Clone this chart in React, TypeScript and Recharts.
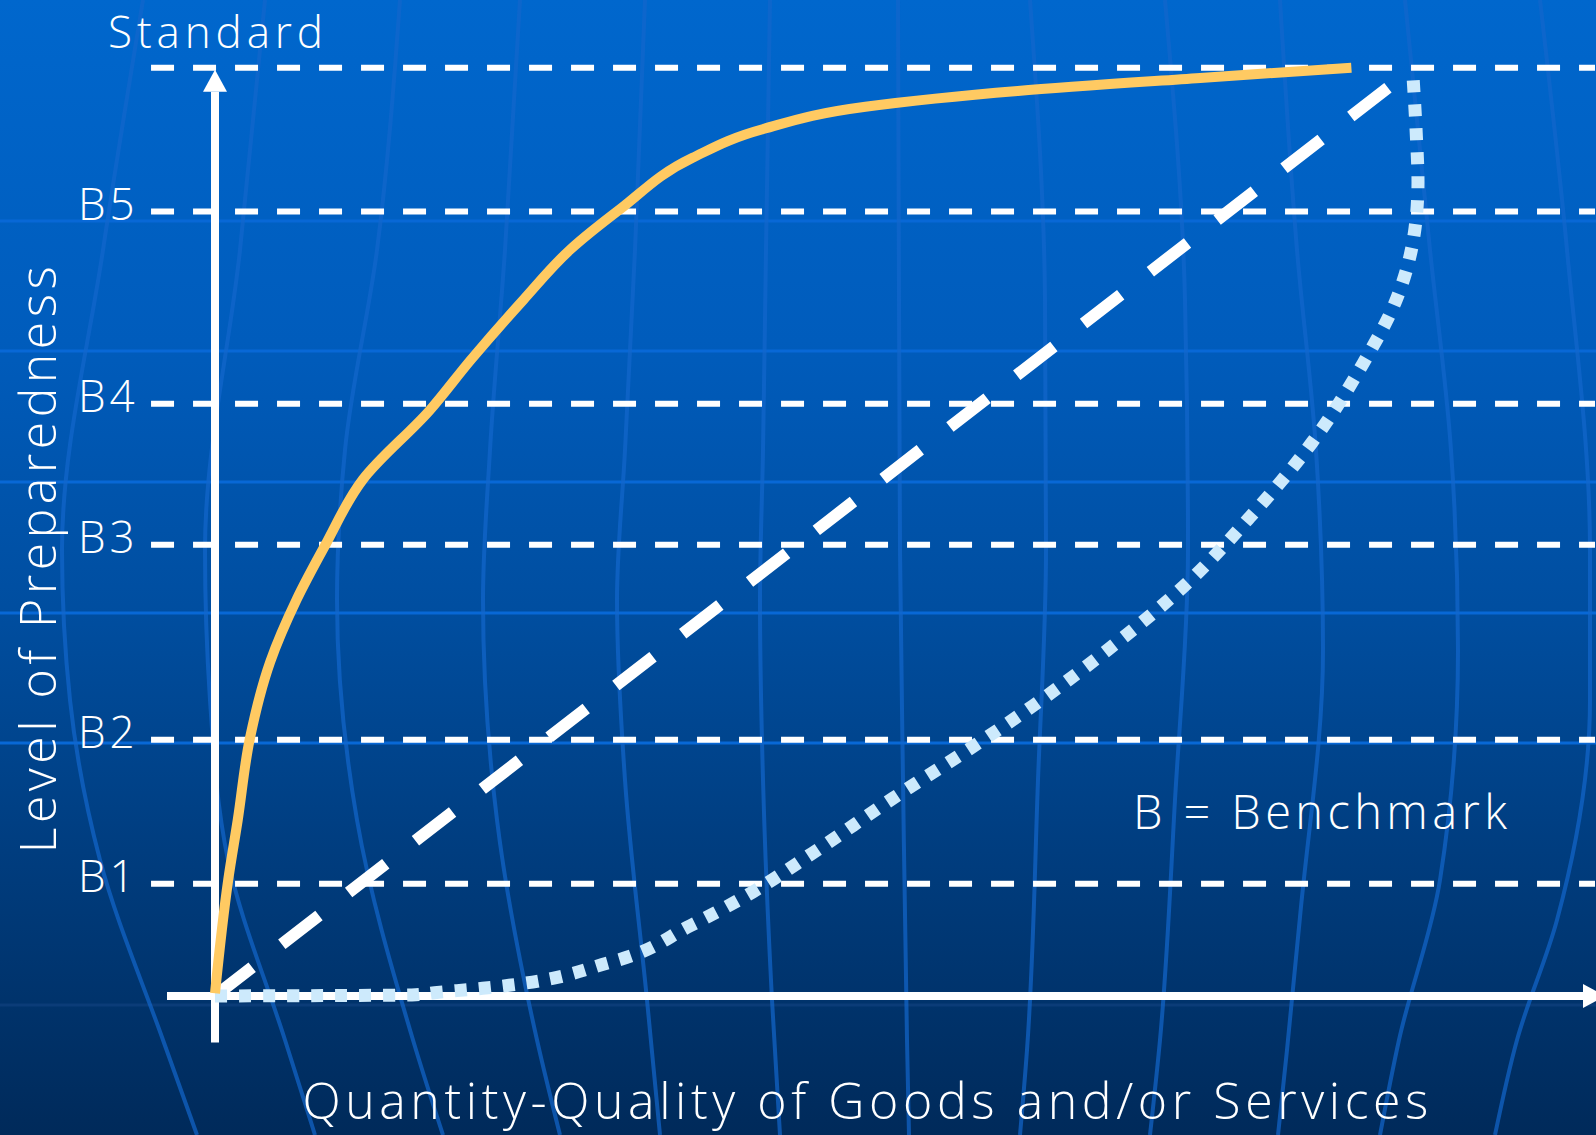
import React from 'react';
import { LineChart, Line, XAxis, YAxis, ReferenceLine, ReferenceDot } from 'recharts';

const W = 1596;
const H = 1135;
const FONT = '"Open Sans", "DejaVu Sans", sans-serif';

// benchmark levels, Standard = 100
const levelNames = ['B1', 'B2', 'B3', 'B4', 'B5'];
const levelValues = [12.1, 27.6, 48.6, 63.8, 84.5];
const standardValue = 100;

// yellow: fast early progress
const fastPath = [
  { x: 0, y: 0.3 }, { x: 1.1, y: 12.5 }, { x: 1.9, y: 19.0 }, { x: 2.9, y: 27.7 },
  { x: 4.6, y: 36.0 }, { x: 6.8, y: 42.7 }, { x: 9.2, y: 48.6 }, { x: 12.3, y: 55.6 },
  { x: 17.9, y: 63.1 }, { x: 21.3, y: 68.5 }, { x: 25.7, y: 75.0 }, { x: 29.6, y: 80.4 },
  { x: 33.8, y: 84.8 }, { x: 39.8, y: 90.3 }, { x: 45.7, y: 93.4 }, { x: 54.2, y: 95.8 },
  { x: 66.9, y: 97.5 }, { x: 82.1, y: 98.9 }, { x: 94.7, y: 100 },
];

// white dashed: steady progress
const linearPath = [{ x: 0, y: 0 }, { x: 99.8, y: 99.9 }];

// light blue dotted: slow start
const slowPath = [
  { x: 0, y: 0 }, { x: 16.4, y: 0.11 }, { x: 18.3, y: 0.36 }, { x: 22.3, y: 0.83 },
  { x: 33.0, y: 3.66 }, { x: 39.6, y: 7.57 }, { x: 44.8, y: 11.2 }, { x: 49.8, y: 15.4 },
  { x: 56.5, y: 21.3 }, { x: 63.2, y: 26.9 }, { x: 68.2, y: 31.3 }, { x: 74.6, y: 37.5 },
  { x: 80.7, y: 44.1 }, { x: 86.25, y: 51.6 }, { x: 91.4, y: 59.6 }, { x: 95.7, y: 68.2 },
  { x: 98.5, y: 75.2 }, { x: 100.0, y: 82.7 }, { x: 100.25, y: 87.7 }, { x: 100.1, y: 93.0 },
  { x: 99.8, y: 99.75 },
];

// faint globe in the background, in picture pixels
const globeParallels = [221, 351, 482, 613, 743];
const globeMeridians = [
  [[143, 0], [103, 250], [62, 550], [70, 700], [100, 860], [163, 1040], [197, 1135]],
  [[265, 0], [240, 250], [205, 550], [210, 700], [228, 860], [285, 1040], [315, 1135]],
  [[400, 0], [377, 250], [345, 450], [337, 600], [357, 820], [413, 1040], [443, 1135]],
  [[520, 0], [505, 250], [490, 450], [483, 600], [497, 820], [537, 1040], [560, 1135]],
  [[645, 0], [635, 250], [625, 450], [617, 600], [625, 780], [647, 1000], [660, 1135]],
  [[770, 0], [766, 250], [763, 450], [760, 600], [763, 780], [772, 1000], [780, 1135]],
  [[898, 0], [899, 300], [900, 550], [903, 780], [907, 1040], [909, 1135]],
  [[1030, 0], [1045, 300], [1046, 550], [1038, 780], [1027, 1050], [1020, 1135]],
  [[1165, 0], [1185, 300], [1188, 550], [1175, 800], [1160, 1040], [1150, 1135]],
  [[1280, 0], [1297, 250], [1316, 450], [1323, 650], [1300, 917], [1287, 1050], [1278, 1135]],
  [[1405, 0], [1430, 250], [1451, 450], [1458, 650], [1440, 880], [1399, 1040], [1380, 1135]],
  [[1540, 0], [1567, 250], [1590, 550], [1590, 700], [1557, 920], [1517, 1040], [1495, 1135]],
].map((m) => m.map(([x, y]) => ({ x, y })));

const txt = {
  fill: '#ffffff',
  fontFamily: FONT,
  fontWeight: 300,
  style: { fontVariantLigatures: 'none' },
} as const;

const BenchTick = (props: any) => {
  const { x, y, payload } = props;
  const i = levelValues.indexOf(payload.value);
  return (
    <text x={x} y={y + 8} fontSize={44} letterSpacing={4} {...txt}>
      {levelNames[i]}
    </text>
  );
};

const StandardLabel = (props: any) => {
  const { viewBox } = props;
  return (
    <text x={viewBox.x - 43} y={viewBox.y - 20} fontSize={44} textLength={215} lengthAdjust="spacing" {...txt}>
      Standard
    </text>
  );
};

const dashedLevel = { stroke: '#ffffff', strokeWidth: 6, strokeDasharray: '23 19' };

export default function App() {
  return (
    <div
      style={{
        position: 'absolute',
        left: 0,
        top: 0,
        width: W,
        height: H,
        background: 'linear-gradient(180deg, #0067cd 0%, #005cbc 30%, #004d9e 55%, #003d7f 75%, #002a5a 100%)',
      }}
    >
      <LineChart width={W} height={H} margin={{ top: 0, right: 0, bottom: 0, left: 0 }}>
        <XAxis xAxisId="g" type="number" dataKey="x" domain={[0, W]} hide />
        <YAxis yAxisId="g" type="number" dataKey="y" domain={[0, H]} reversed hide />
        <XAxis xAxisId="m" type="number" dataKey="x" domain={[-215 / 12, 1381 / 12]} hide />
        <YAxis
          yAxisId="m"
          type="number"
          domain={[-139 / 9.283, 996 / 9.283]}
          ticks={levelValues}
          interval={0}
          mirror
          axisLine={false}
          tickLine={false}
          tickSize={0}
          tickMargin={78}
          tick={<BenchTick />}
        />

        {globeParallels.map((g) => (
          <ReferenceLine key={'p' + g} xAxisId="g" yAxisId="g" y={g} stroke="#0868d6" strokeWidth={3} />
        ))}
        <ReferenceLine xAxisId="g" yAxisId="g" y={1005} stroke="#0b3c78" strokeWidth={3} />
        {globeMeridians.map((m, i) => (
          <Line
            key={'m' + i}
            xAxisId="g"
            yAxisId="g"
            data={m}
            dataKey="y"
            type="monotoneY"
            stroke="#1266cc"
            strokeOpacity={0.7}
            strokeWidth={4}
            dot={false}
            activeDot={false}
            isAnimationActive={false}
          />
        ))}

        {levelValues.map((v) => (
          <ReferenceLine
            key={'b' + v}
            xAxisId="m"
            yAxisId="m"
            segment={[{ x: -5.33, y: v }, { x: 115, y: v }]}
            {...dashedLevel}
          />
        ))}
        <ReferenceLine
          xAxisId="m"
          yAxisId="m"
          segment={[{ x: -5.33, y: standardValue }, { x: 115, y: standardValue }]}
          {...dashedLevel}
          label={<StandardLabel />}
        />

        {/* axes with arrow heads */}
        <ReferenceLine xAxisId="m" yAxisId="m" segment={[{ x: 0, y: -5 }, { x: 0, y: 97.4 }]} stroke="#ffffff" strokeWidth={8} />
        <ReferenceLine xAxisId="m" yAxisId="m" segment={[{ x: -4, y: 0 }, { x: 114, y: 0 }]} stroke="#ffffff" strokeWidth={8} />
        <ReferenceDot
          xAxisId="m"
          yAxisId="m"
          x={0}
          y={97.4}
          shape={(p: any) => <polygon points={`${p.cx - 12},${p.cy} ${p.cx + 12},${p.cy} ${p.cx},${p.cy - 22}`} fill="#ffffff" />}
        />
        <ReferenceDot
          xAxisId="m"
          yAxisId="m"
          x={114}
          y={0}
          shape={(p: any) => <polygon points={`${p.cx},${p.cy - 12} ${p.cx},${p.cy + 12} ${p.cx + 22},${p.cy}`} fill="#ffffff" />}
        />

        {/* text */}
        <ReferenceDot
          xAxisId="m"
          yAxisId="m"
          x={76.5}
          y={18.0}
          shape={(p: any) => (
            <text x={p.cx} y={p.cy} fontSize={47} textLength={374} lengthAdjust="spacing" {...txt}>
              B = Benchmark
            </text>
          )}
        />
        <ReferenceDot
          xAxisId="m"
          yAxisId="m"
          x={54.2}
          y={-13.25}
          shape={(p: any) => (
            <text x={p.cx} y={p.cy} fontSize={50} textAnchor="middle" textLength={1126} lengthAdjust="spacing" {...txt}>
              Quantity-Quality of Goods and/or Services
            </text>
          )}
        />
        <ReferenceDot
          xAxisId="m"
          yAxisId="m"
          x={-13.27}
          y={47.0}
          shape={(p: any) => (
            <text
              x={p.cx}
              y={p.cy}
              fontSize={50}
              textAnchor="middle"
              textLength={587}
              lengthAdjust="spacing"
              transform={`rotate(-90 ${p.cx} ${p.cy})`}
              {...txt}
            >
              Level of Preparedness
            </text>
          )}
        />

        {/* the three paths */}
        <Line
          xAxisId="m"
          yAxisId="m"
          data={linearPath}
          dataKey="y"
          type="linear"
          stroke="#ffffff"
          strokeWidth={12}
          strokeDasharray="47 37.5"
          dot={false}
          activeDot={false}
          isAnimationActive={false}
        />
        <Line
          xAxisId="m"
          yAxisId="m"
          data={slowPath}
          dataKey="y"
          type="monotoneY"
          stroke="#cdeafc"
          strokeWidth={13}
          strokeDasharray="12 12"
          dot={false}
          activeDot={false}
          isAnimationActive={false}
        />
        <Line
          xAxisId="m"
          yAxisId="m"
          data={fastPath}
          dataKey="y"
          type="monotoneY"
          stroke="#ffca62"
          strokeWidth={10}
          dot={false}
          activeDot={false}
          isAnimationActive={false}
        />
      </LineChart>
    </div>
  );
}
